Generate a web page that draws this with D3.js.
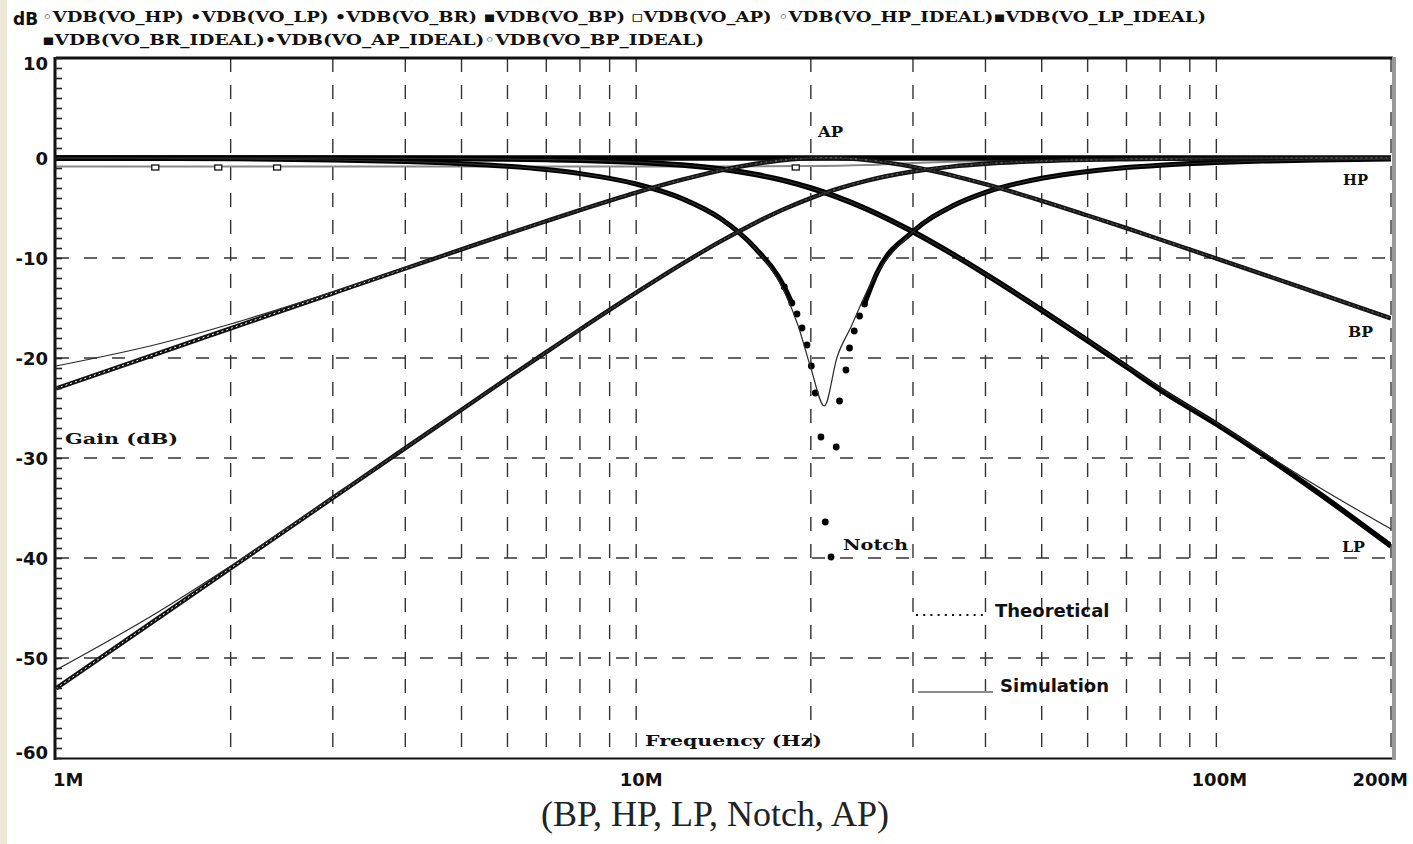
<!DOCTYPE html>
<html lang="en">
<head>
<meta charset="utf-8">
<title>Universal biquad filter - gain vs frequency</title>
<style>
  body { margin: 0; background: #fff; }
  svg { display: block; }
  .num { font-family: "DejaVu Sans", sans-serif; font-weight: bold; font-size: 18px; fill: #111; }
  .ps { font-family: "DejaVu Serif", "Liberation Serif", serif; font-weight: bold; font-size: 15px; fill: #111; }
</style>
</head>
<body>
<script src="https://cdn.jsdelivr.net/npm/d3@7/dist/d3.min.js"></script>
<script>
  // frequencies in MHz, gains in dB
  var freqs = [1, 1.5, 2, 3, 4, 5, 6, 7, 8, 10, 12, 14, 16, 18, 20, 22, 25, 30, 35, 40, 50, 60, 70, 80, 100, 120, 150, 200];

  var lpSim   = [0, -0.01, -0.01, -0.02, -0.04, -0.07, -0.11, -0.16, -0.22, -0.42, -0.70, -1.10, -1.63, -2.26, -3.00, -3.81, -5.12, -7.38, -9.57, -11.61, -15.21, -18.26, -20.88, -23.16, -26.6, -29.6, -33.5, -38.8];
  var lpIdeal = [0, -0.01, -0.01, -0.02, -0.04, -0.07, -0.11, -0.16, -0.22, -0.42, -0.70, -1.10, -1.63, -2.26, -3.00, -3.81, -5.12, -7.38, -9.57, -11.61, -15.21, -18.2, -20.8, -23.0, -26.5, -29.4, -32.9, -37.1];
  var hpSim   = [-53.05, -46.01, -41.02, -33.99, -29.01, -25.17, -22.03, -19.41, -17.15, -13.47, -10.59, -8.31, -6.52, -5.10, -4.01, -3.17, -2.26, -1.35, -0.86, -0.58, -0.31, -0.19, -0.13, -0.09, -0.05, -0.04, -0.02, -0.01];
  var hpIdeal = [-51.2, -45.4, -40.8, -33.9, -29.01, -25.17, -22.03, -19.41, -17.15, -13.47, -10.59, -8.31, -6.52, -5.10, -4.01, -3.17, -2.26, -1.35, -0.86, -0.58, -0.31, -0.19, -0.13, -0.09, -0.05, -0.04, -0.02, -0.01];
  var bpSim   = [-23.05, -19.53, -17.04, -13.53, -11.05, -9.14, -7.59, -6.31, -5.21, -3.46, -2.17, -1.23, -0.60, -0.20, -0.03, -0.01, -0.21, -0.88, -1.73, -2.62, -4.28, -5.75, -7.02, -8.15, -10.05, -11.61, -13.54, -16.03];
  var bpIdeal = [-20.8, -18.6, -16.6, -13.4, -11.0, -9.14, -7.59, -6.31, -5.21, -3.46, -2.17, -1.23, -0.60, -0.20, -0.03, -0.01, -0.21, -0.88, -1.73, -2.62, -4.28, -5.75, -7.02, -8.15, -10.05, -11.61, -13.54, -16.03];

  // notch (band reject)
  var brSimFreq = [1, 1.5, 2, 3, 4, 5, 6, 7, 8, 10, 12, 14, 16, 18, 18.55, 18.93, 19.31, 19.70, 20.04, 20.36, 20.82, 21.18, 21.67, 22.12, 22.41, 22.99, 23.32, 23.76, 24.27, 24.75, 26, 30, 35, 40, 50, 60, 70, 80, 100, 120, 150, 200];
  var brSim     = [-0.02, -0.05, -0.08, -0.20, -0.36, -0.57, -0.83, -1.16, -1.56, -2.60, -4.06, -6.08, -8.95, -12.9, -14.5, -15.6, -17.0, -18.7, -20.8, -23.5, -27.9, -36.4, -39.9, -28.9, -24.3, -21.2, -19.0, -17.3, -15.8, -14.6, -11.5, -7.36, -4.83, -3.44, -2.03, -1.35, -0.96, -0.72, -0.45, -0.31, -0.20, -0.11];
  var brIdealFreq = [1, 1.5, 2, 3, 4, 5, 6, 7, 8, 10, 12, 14, 16, 18, 19, 20, 21.1, 22.2, 23.5, 25, 30, 35, 40, 50, 60, 70, 80, 100, 120, 150, 200];
  var brIdeal     = [-0.02, -0.05, -0.08, -0.20, -0.36, -0.57, -0.83, -1.16, -1.56, -2.60, -4.06, -6.08, -8.95, -13.35, -16.7, -21.0, -24.8, -19.9, -16.8, -13.3, -7.36, -4.83, -3.44, -2.03, -1.35, -0.96, -0.72, -0.45, -0.31, -0.20, -0.11];

  // all pass
  var apFreq = [1, 10, 100, 200];
  var apIdeal = [0, 0, 0, 0];
  var apSimFreq = [1, 5, 10, 20, 25, 30, 40, 60, 100, 200];
  var apSim = [-0.85, -0.85, -0.85, -0.8, -0.7, -0.5, -0.3, -0.15, -0.1, -0.05];
  var apMarkFreq = [1.48, 1.9, 2.4, 18.8];
  var apMarkDb = [-0.9, -0.9, -0.9, -0.9];

  var gridFreqs = [2, 3, 4, 5, 6, 7, 8, 9, 10, 20, 30, 40, 50, 60, 70, 80, 90, 100, 200];
  var dbTicks = [10, 0, -10, -20, -30, -40, -50, -60];
  var xLabels = ["1M", "10M", "100M", "200M"];
  var xLabelFreqs = [1, 10, 100, 200];

  var legendLines = [
    "\u25e6VDB(VO_HP) \u2022VDB(VO_LP) \u2022VDB(VO_BR) \u25aaVDB(VO_BP) \u25abVDB(VO_AP) \u25e6VDB(VO_HP_IDEAL)\u25aaVDB(VO_LP_IDEAL)",
    "\u25aaVDB(VO_BR_IDEAL)\u2022VDB(VO_AP_IDEAL)\u25e6VDB(VO_BP_IDEAL)"
  ];
  var plotLabels = ["AP", "HP", "BP", "LP", "Notch", "Gain (dB)", "Frequency (Hz)"];

  var x = d3.scaleLog().domain([1e6, 2e8]).range([56, 1391]);
  var y = d3.scaleLinear().domain([-60, 10]).range([758, 58]);

  function series(fs, vs) {
    return fs.map(function(f, i) { return [f * 1e6, vs[i]]; });
  }

  var line = d3.line()
    .x(function(d) { return x(d[0]); })
    .y(function(d) { return y(d[1]); })
    .curve(d3.curveMonotoneX);

  var svg = d3.select("body").append("svg")
    .attr("width", 1413)
    .attr("height", 844);

  // beige strip on the far left of the scan
  svg.append("rect").attr("x", 0).attr("y", 0).attr("width", 7).attr("height", 844).attr("fill", "#efe8d9");

  svg.append("clipPath").attr("id", "plotclip")
    .append("rect").attr("x", 56).attr("y", 58).attr("width", 1335).attr("height", 700);

  // grid
  svg.append("g").selectAll("line")
    .data(gridFreqs)
    .enter().append("line")
    .attr("x1", function(d) { return x(d * 1e6); })
    .attr("x2", function(d) { return x(d * 1e6); })
    .attr("y1", y(10))
    .attr("y2", y(-60))
    .attr("stroke", "#333")
    .attr("stroke-width", 1.4)
    .attr("stroke-dasharray", "14,13");

  svg.append("g").selectAll("line")
    .data(dbTicks.filter(function(d) { return d < 10 && d > -60; }))
    .enter().append("line")
    .attr("x1", x(1e6))
    .attr("x2", x(2e8))
    .attr("y1", function(d) { return y(d); })
    .attr("y2", function(d) { return y(d); })
    .attr("stroke", "#333")
    .attr("stroke-width", 1.4)
    .attr("stroke-dasharray", "13,15");

  var plot = svg.append("g").attr("clip-path", "url(#plotclip)");

  // all pass: simulated trace slightly below, ideal on 0 dB
  plot.append("path").datum(series(apSimFreq, apSim))
    .attr("d", line).attr("fill", "none").attr("stroke", "#8a8a8a").attr("stroke-width", 2);
  plot.append("g").selectAll("rect")
    .data(series(apMarkFreq, apMarkDb))
    .enter().append("rect")
    .attr("x", function(d) { return x(d[0]) - 3; })
    .attr("y", function(d) { return y(d[1]) - 2; })
    .attr("width", 7).attr("height", 5)
    .attr("fill", "#fff").attr("stroke", "#111").attr("stroke-width", 1.3);
  plot.append("path").datum(series(apFreq, apIdeal))
    .attr("d", line).attr("fill", "none").attr("stroke", "#000").attr("stroke-width", 5.5);

  // low pass (filled dots)
  plot.append("path").datum(series(freqs, lpSim))
    .attr("d", line).attr("fill", "none").attr("stroke", "#000").attr("stroke-width", 5.5);

  // notch (filled dots, sparse at the bottom)
  var brData = series(brSimFreq, brSim);
  plot.append("path").datum(brData)
    .attr("d", line.defined(function(d) { return d[1] > -14.8; }))
    .attr("fill", "none").attr("stroke", "#000").attr("stroke-width", 5);
  line.defined(function() { return true; });
  plot.append("g").selectAll("circle")
    .data(brData.filter(function(d) { return d[1] < -12; }))
    .enter().append("circle")
    .attr("cx", function(d) { return x(d[0]); })
    .attr("cy", function(d) { return y(d[1]); })
    .attr("r", 3.4)
    .attr("fill", "#000");

  // high pass and band pass (open circles)
  [hpSim, bpSim].forEach(function(vals) {
    plot.append("path").datum(series(freqs, vals))
      .attr("d", line).attr("fill", "none").attr("stroke", "#111").attr("stroke-width", 4.4);
    plot.append("path").datum(series(freqs, vals))
      .attr("d", line).attr("fill", "none").attr("stroke", "#fff").attr("stroke-width", 1)
      .attr("stroke-dasharray", "2,3");
  });

  // ideal traces, thin
  [[freqs, lpIdeal], [freqs, hpIdeal], [freqs, bpIdeal], [brIdealFreq, brIdeal]].forEach(function(p) {
    plot.append("path").datum(series(p[0], p[1]))
      .attr("d", line).attr("fill", "none").attr("stroke", "#2a2a2a").attr("stroke-width", 1.2);
  });

  // frame
  svg.append("line").attr("x1", 56).attr("x2", 1393).attr("y1", 58).attr("y2", 58)
    .attr("stroke", "#111").attr("stroke-width", 3);
  svg.append("line").attr("x1", 56).attr("x2", 1393).attr("y1", 758.5).attr("y2", 758.5)
    .attr("stroke", "#111").attr("stroke-width", 2.2);
  svg.append("line").attr("x1", 55).attr("x2", 55).attr("y1", 57).attr("y2", 760)
    .attr("stroke", "#111").attr("stroke-width", 3);
  svg.append("line").attr("x1", 1394).attr("x2", 1394).attr("y1", 57).attr("y2", 760)
    .attr("stroke", "#999").attr("stroke-width", 4);

  // minor ticks every dB
  var minor = svg.append("g")
    .attr("transform", "translate(55,0)")
    .call(d3.axisRight(y).tickValues(d3.range(-60, 11, 1)).tickSize(7).tickFormat(""));
  minor.select(".domain").remove();
  minor.selectAll("line").attr("stroke", "#222").attr("stroke-width", 1.6);

  // y labels
  svg.append("g").selectAll("text")
    .data(dbTicks)
    .enter().append("text")
    .attr("class", "num")
    .attr("x", 48)
    .attr("y", function(d) { return Math.max(64, Math.min(753, y(d) + 1)); })
    .attr("dy", "0.36em")
    .attr("text-anchor", "end")
    .text(function(d) { return d; });

  // x labels
  var xAnchor = ["start", "middle", "middle", "end"];
  var xShift = [-3, 5, 3, 17];
  svg.append("g").selectAll("text")
    .data(xLabels)
    .enter().append("text")
    .attr("class", "num")
    .attr("x", function(d, i) { return x(xLabelFreqs[i] * 1e6) + xShift[i]; })
    .attr("y", 786)
    .attr("text-anchor", function(d, i) { return xAnchor[i]; })
    .text(function(d) { return d; });

  // header legend
  svg.append("text").attr("class", "num").attr("x", 13).attr("y", 25)
    .style("font-size", "17px").text("dB");
  var lineEnds = [1206, 704];
  svg.append("g").selectAll("text")
    .data(legendLines)
    .enter().append("text")
    .attr("class", "ps")
    .attr("x", 42)
    .attr("y", function(d, i) { return 22 + i * 23; })
    .attr("textLength", function(d, i) { return lineEnds[i] - 42; })
    .attr("lengthAdjust", "spacingAndGlyphs")
    .style("font-size", "15px")
    .text(function(d) { return d; });

  // in-plot labels
  var labelPos = [[818, 137], [1343, 185], [1348, 337], [1342, 552], [843, 550], [65, 444], [645, 746]];
  var labelLen = [25, 25, 25, 23, 65, 113, 177];
  svg.append("g").selectAll("text")
    .data(plotLabels)
    .enter().append("text")
    .attr("class", "ps")
    .attr("x", function(d, i) { return labelPos[i][0]; })
    .attr("y", function(d, i) { return labelPos[i][1]; })
    .attr("textLength", function(d, i) { return labelLen[i]; })
    .attr("lengthAdjust", "spacingAndGlyphs")
    .text(function(d) { return d; });

  // theoretical / simulation key
  svg.append("line").attr("x1", 916).attr("x2", 988).attr("y1", 615).attr("y2", 615)
    .attr("stroke", "#111").attr("stroke-width", 2.2).attr("stroke-dasharray", "2,5.2");
  svg.append("text").attr("class", "num").attr("x", 995).attr("y", 617).text("Theoretical");
  svg.append("line").attr("x1", 918).attr("x2", 993).attr("y1", 692).attr("y2", 692)
    .attr("stroke", "#8a8a8a").attr("stroke-width", 2);
  svg.append("text").attr("class", "num").attr("x", 1000).attr("y", 692).text("Simulation");

  // caption
  svg.append("text")
    .attr("x", 715)
    .attr("y", 826)
    .attr("text-anchor", "middle")
    .style("font-family", "'Liberation Serif', 'Times New Roman', serif")
    .style("font-size", "36px")
    .attr("fill", "#222")
    .text("(BP, HP, LP, Notch, AP)");
</script>
</body>
</html>
